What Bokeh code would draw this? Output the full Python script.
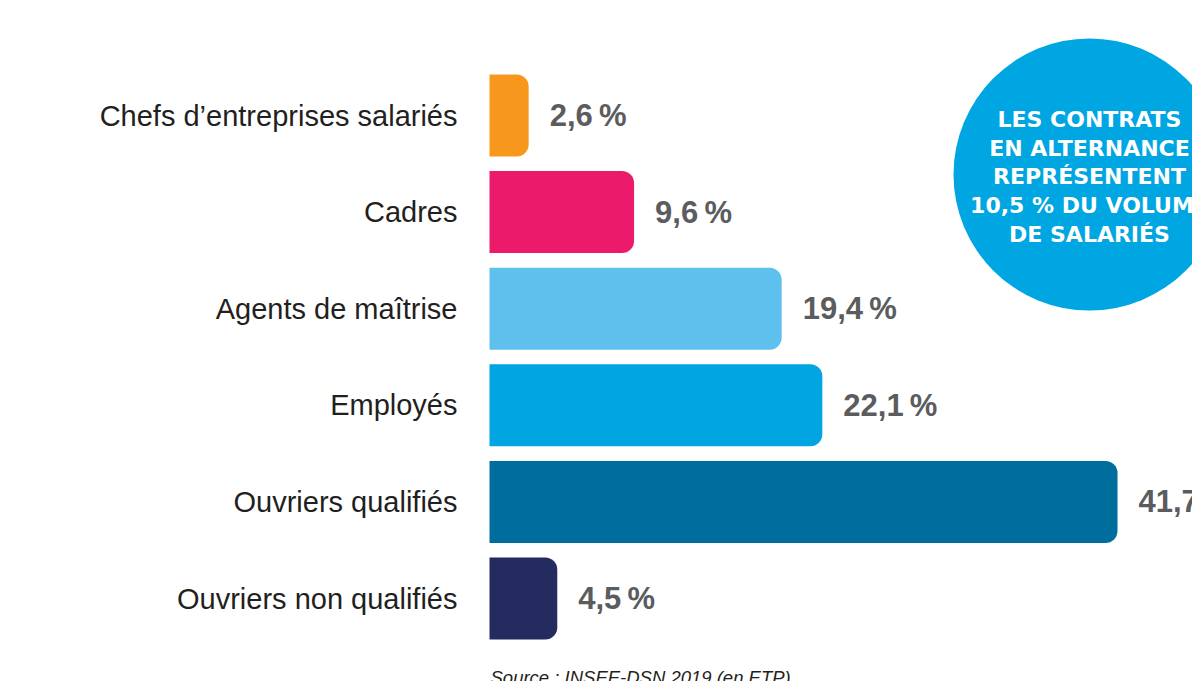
from bokeh.plotting import figure
from bokeh.models import ColumnDataSource, Range1d
from bokeh.core.properties import value
from bokeh.embed import file_html
from bokeh.resources import INLINE

categories = ["Chefs d’entreprises salariés", "Cadres", "Agents de maîtrise",
              "Employés", "Ouvriers qualifiés", "Ouvriers non qualifiés"]
shares = [2.6, 9.6, 19.4, 22.1, 41.7, 4.5]
share_labels = ["2,6\u2009%", "9,6\u2009%", "19,4\u2009%", "22,1\u2009%", "41,7\u2009%", "4,5\u2009%"]
bar_colors = ["#f7981d", "#ec1a6a", "#5ec1ed", "#00a5e1", "#006e9c", "#242b5f"]
callout_lines = ["LES CONTRATS", "EN ALTERNANCE", "REPRÉSENTENT",
                 "10,5 % DU VOLUME", "DE SALARIÉS"]
source_note = "Source : INSEE-DSN 2019 (en ETP)"

W, H = 1192, 681
px_per_unit = 628 / 41.7
x0_px = 489
row_px = 96.6
y0_px = 115

p = figure(width=W, height=H, output_backend="svg", toolbar_location=None,
           x_range=Range1d(-x0_px / px_per_unit, (W - x0_px) / px_per_unit),
           y_range=Range1d((H - y0_px) / row_px, -y0_px / row_px),
           x_axis_type=None, y_axis_type=None, min_border=0,
           outline_line_color=None, background_fill_color="white",
           border_fill_color="white")
p.xgrid.visible = False
p.ygrid.visible = False

pos = list(range(len(categories)))
src = ColumnDataSource(dict(y=pos, v=shares, lab=share_labels, cat=categories,
                            color=bar_colors, zero=[0] * len(pos)))

p.hbar(y="y", left=0, right="v", height=82 / row_px, fill_color="color",
       line_color=None, border_radius=(0, 12, 12, 0), source=src)

p.text(x="zero", y="y", text="cat", x_offset=-32, text_align="right",
       text_baseline="middle", text_font=value("Liberation Sans"),
       text_font_size="29px", text_color="#231f20", source=src)

p.text(x="v", y="y", text="lab", x_offset=21, text_align="left",
       text_baseline="middle", text_font=value("Liberation Sans"),
       text_font_style="bold", text_font_size="31px", text_color="#5b5c5e",
       source=src)

# callout circle
cx = (1089 - x0_px) / px_per_unit
cy = (174 - y0_px) / row_px
p.circle(x=[cx], y=[cy], radius=136, radius_units="screen",
         fill_color="#00a6e2", line_color=None)

csrc = ColumnDataSource(dict(x=[cx] * len(callout_lines), y=[cy] * len(callout_lines),
                             t=callout_lines,
                             yo=[-55 + 28.7 * k for k in range(len(callout_lines))]))
p.text(x="x", y="y", text="t", y_offset="yo", text_align="center",
       text_baseline="alphabetic", text_font=value("DejaVu Sans"),
       text_font_style="bold", text_font_size="22px", text_color="white",
       source=csrc)

p.text(x=[0], y=[pos[-1]], text=[source_note], x_offset=1, y_offset=68,
       text_align="left", text_baseline="top", text_font=value("Liberation Sans"),
       text_font_style="italic", text_font_size="18.5px", text_color="#231f20")

open("out.html", "w").write(file_html(p, INLINE))
